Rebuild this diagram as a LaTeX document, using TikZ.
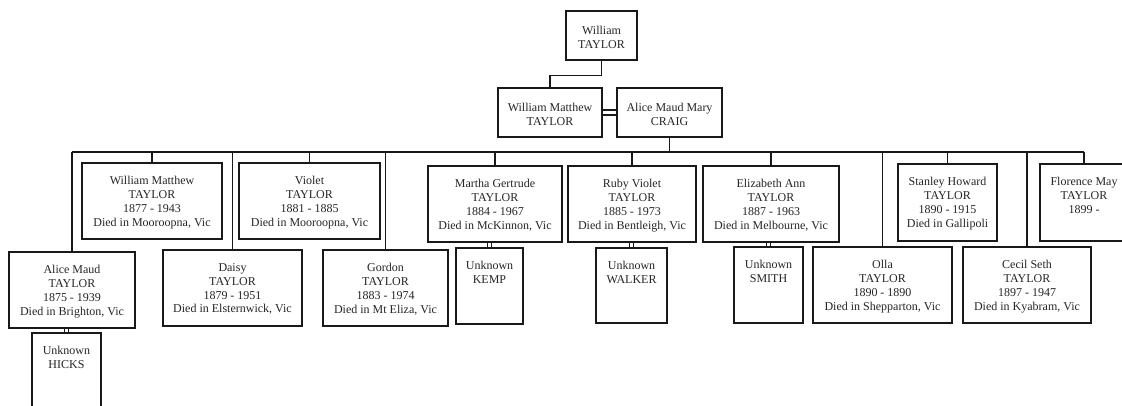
\documentclass[tikz,border=0pt]{standalone}
\usepackage{fontspec}
\setmainfont{Liberation Serif}
\begin{document}
\begin{tikzpicture}[x=1pt,y=-1pt,
  pbox/.style={draw=black!90, line width=1.3pt, fill=white, inner sep=0pt, rectangle},
  ptext/.style={anchor=north, align=center, inner sep=0pt, text=black!85,
    font=\fontsize{12}{13.8}\selectfont},
  link/.style={draw=black!90, line width=1.3pt}]
\useasboundingbox (0,0) rectangle (1122,405);
\clip (0,0) rectangle (1122,405);
\fill[white] (0,0) rectangle (1122,405);
\coordinate (bar) at (0,152);
% boxes
\node[pbox, minimum width=71pt, minimum height=49pt] (wt) at (601.5,35.5) {};
\node[ptext] (wt-t) at ([yshift=-15.5pt]wt.north) {William\\TAYLOR};
\node[pbox, minimum width=104pt, minimum height=49pt] (wmt) at (550,112.5) {};
\node[ptext] (wmt-t) at ([yshift=-16pt]wmt.north) {William Matthew\\TAYLOR};
\node[pbox, minimum width=105pt, minimum height=49pt] (amc) at (669.5,112.5) {};
\node[ptext] (amc-t) at ([yshift=-16pt]amc.north) {Alice Maud Mary\\CRAIG};
% children
\node[pbox, minimum width=126pt, minimum height=76pt] (c1) at (72,290) {};
\node[ptext] (c1-t) at ([yshift=-14pt]c1.north) {Alice Maud\\TAYLOR\\1875 - 1939\\Died in Brighton, Vic};
\node[pbox, minimum width=140pt, minimum height=76pt] (c2) at (152,201) {};
\node[ptext] (c2-t) at ([yshift=-14pt]c2.north) {William Matthew\\TAYLOR\\1877 - 1943\\Died in Mooroopna, Vic};
\node[pbox, minimum width=139pt, minimum height=76pt] (c3) at (232.5,288) {};
\node[ptext] (c3-t) at ([yshift=-14pt]c3.north) {Daisy\\TAYLOR\\1879 - 1951\\Died in Elsternwick, Vic};
\node[pbox, minimum width=141pt, minimum height=76pt] (c4) at (309.5,201) {};
\node[ptext] (c4-t) at ([yshift=-14pt]c4.north) {Violet\\TAYLOR\\1881 - 1885\\Died in Mooroopna, Vic};
\node[pbox, minimum width=125pt, minimum height=76pt] (c5) at (385.5,288) {};
\node[ptext] (c5-t) at ([yshift=-14pt]c5.north) {Gordon\\TAYLOR\\1883 - 1974\\Died in Mt Eliza, Vic};
\node[pbox, minimum width=134pt, minimum height=76pt] (c6) at (495,204) {};
\node[ptext] (c6-t) at ([yshift=-14pt]c6.north) {Martha Gertrude\\TAYLOR\\1884 - 1967\\Died in McKinnon, Vic};
\node[pbox, minimum width=128pt, minimum height=76pt] (c7) at (632,204) {};
\node[ptext] (c7-t) at ([yshift=-14pt]c7.north) {Ruby Violet\\TAYLOR\\1885 - 1973\\Died in Bentleigh, Vic};
\node[pbox, minimum width=136pt, minimum height=76pt] (c8) at (771,204) {};
\node[ptext] (c8-t) at ([yshift=-14pt]c8.north) {Elizabeth Ann\\TAYLOR\\1887 - 1963\\Died in Melbourne, Vic};
\node[pbox, minimum width=139pt, minimum height=76pt] (c9) at (882.5,285) {};
\node[ptext] (c9-t) at ([yshift=-14pt]c9.north) {Olla\\TAYLOR\\1890 - 1890\\Died in Shepparton, Vic};
\node[pbox, minimum width=99pt, minimum height=77pt] (c10) at (947.5,202.5) {};
\node[ptext] (c10-t) at ([yshift=-14pt]c10.north) {Stanley Howard\\TAYLOR\\1890 - 1915\\Died in Gallipoli};
\node[pbox, minimum width=128pt, minimum height=76pt] (c11) at (1027,285) {};
\node[ptext] (c11-t) at ([yshift=-14pt]c11.north) {Cecil Seth\\TAYLOR\\1897 - 1947\\Died in Kyabram, Vic};
\node[pbox, minimum width=88pt, minimum height=77pt] (c12) at (1084,202.5) {};
\node[ptext] (c12-t) at ([yshift=-14pt]c12.north) {Florence May\\TAYLOR\\1899 -};
% spouses
\node[pbox, minimum width=69pt, minimum height=90pt] (hicks) at (66.5,378) {};
\node[ptext] (hicks-t) at ([yshift=-14pt]hicks.north) {Unknown\\HICKS};
\node[pbox, minimum width=67pt, minimum height=76pt] (kemp) at (489.5,286) {};
\node[ptext] (kemp-t) at ([yshift=-14pt]kemp.north) {Unknown\\KEMP};
\node[pbox, minimum width=71pt, minimum height=75pt] (walker) at (631.5,285.5) {};
\node[ptext] (walker-t) at ([yshift=-14pt]walker.north) {Unknown\\WALKER};
\node[pbox, minimum width=69pt, minimum height=76pt] (smith) at (768.5,285) {};
\node[ptext] (smith-t) at ([yshift=-14pt]smith.north) {Unknown\\SMITH};
% connectors
\draw[link] (wt.south) -- ++(0,15) -| (wmt.north);
\draw[link] ([yshift=2.5pt]wmt.east) -- ([yshift=2.5pt]amc.west);
\draw[link] ([yshift=-2.5pt]wmt.east) -- ([yshift=-2.5pt]amc.west);
\draw[link] (amc.south) -- (amc.south |- bar);
\draw[link] (c1.north |- bar) -- (c12.north |- bar);
\foreach \c in {c1,c2,c3,c4,c5,c6,c7,c8,c9,c10,c11,c12}
  \draw[link] (\c.north) -- (\c.north |- bar);
\foreach \s/\p in {hicks/c1,kemp/c6,walker/c7,smith/c8} {
  \draw[link] ([xshift=-2pt]\s.north) -- ([xshift=-2pt]\s.north |- \p.south);
  \draw[link] ([xshift=2pt]\s.north) -- ([xshift=2pt]\s.north |- \p.south);
}
\end{tikzpicture}
\end{document}
